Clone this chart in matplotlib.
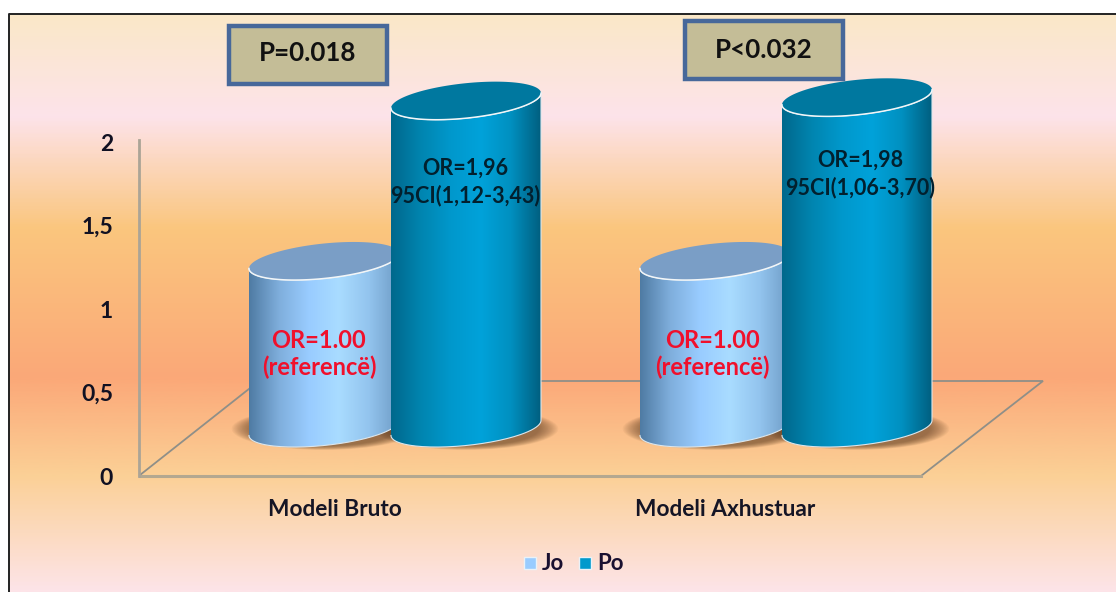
# Odds ratios for two models drawn as 3D-style cylinders over a gradient panel
import numpy as np
import matplotlib
matplotlib.use('Agg')
import matplotlib.pyplot as plt
from matplotlib.colors import LinearSegmentedColormap
from matplotlib.patches import Ellipse, FancyBboxPatch, PathPatch, Polygon, Rectangle
from matplotlib.path import Path
from matplotlib.transforms import Affine2D

plt.rcParams['font.family'] = ['Lato', 'DejaVu Sans']

# Data
models = ['Modeli Bruto', 'Modeli Axhustuar']
series = ['Jo', 'Po']
jo_values = [1.00, 1.00]
po_values = [1.96, 1.98]
y_ticks = [0, 0.5, 1, 1.5, 2]
y_tick_labels = ['0', '0,5', '1', '1,5', '2']
p_labels = ['P=0.018', 'P<0.032']
jo_notes = ['OR=1.00\n(referencë)', 'OR=1.00\n(referencë)']
po_notes = ['OR=1,96\n95CI(1,12-3,43)', 'OR=1,98\n95CI(1,06-3,70)']

# Figure geometry in pixels
W, H = 1116, 592
X0, X_STEP = 395.0, 391.0   # pixel of first group centre, pixels between groups
Y0, Y_STEP = 476.0, 167.0   # pixel of value 0, pixels per unit
BASE = 48 / Y_STEP          # floor depth under the cylinders, in value units
RX = 75 / X_STEP            # cylinder half width in group units
RY = 17.5 / Y_STEP          # ellipse half height
TILT = 7.5 / Y_STEP         # rise of the ellipse towards its right side

fig = plt.figure(figsize=(W / 100, H / 100), dpi=100, facecolor='white')
ax = fig.add_axes([0, 0, 1, 1])
ax.axis('off')
xlim = (-X0 / X_STEP, (W - X0) / X_STEP)
ylim = ((Y0 - H) / Y_STEP, Y0 / Y_STEP)

# transform for the furniture, given in pixels from the top left corner
pix = Affine2D().scale(1, -1).translate(0, H)


def px(x):
    return (x - X0) / X_STEP


def py(y):
    return (Y0 - y) / Y_STEP


# Background gradient of the panel
stops = [(0.0, '#FAE8C8'), (0.175, '#FDE3EA'), (0.37, '#FAC67E'), (0.63, '#FBA878'),
         (0.80, '#FBD096'), (1.0, '#FDE4E8')]
bg_cmap = LinearSegmentedColormap.from_list('panel', stops)
ax.imshow(np.linspace(0, 1, 400)[:, None], cmap=bg_cmap, aspect='auto', zorder=0,
          extent=(px(9), xlim[1], py(592), py(14)))
ax.plot([px(9), px(9), xlim[1]], [py(592), py(14), py(14)], color='#222222', lw=1.4, zorder=1)

# Floor and value axis
floor = [(140, 475), (259, 381), (1043, 381), (921, 476), (140, 476)]
ax.add_patch(Polygon(floor, closed=False, fill=False, ec='#8F8F88', lw=1.3, transform=pix, zorder=2))
ax.plot([140, 921], [476, 476], color='#B3A890', lw=2.2, transform=pix, zorder=2)
ax.plot([139, 139], [140, 476], color='#ABA496', lw=2.0, transform=pix, zorder=2)

for tick, label in zip(y_ticks, y_tick_labels):
    ax.text(px(113), tick - 0.012, label, ha='right', va='center', fontsize=16.5, fontweight='bold',
            color='#111122')

jo_cmap = LinearSegmentedColormap.from_list('jo', ['#4F7BA3', '#7FAEDC', '#99CCFF', '#A9DCFF', '#93C4EE', '#6E9CC6'])
po_cmap = LinearSegmentedColormap.from_list('po', ['#00688C', '#0085B0', '#0098CC', '#00A2DA', '#0090C0', '#005F80'])


def ellipse_xy(cx, cy, n=120):
    t = np.linspace(0, 2 * np.pi, n)
    return cx + RX * np.cos(t), cy + TILT * np.cos(t) + RY * np.sin(t)


def cylinder(cx, value, cmap, top_color, z):
    bottom, top = BASE, BASE + value

    # soft shadow on the floor, wider than the base and fading outwards
    for i in range(16):
        grow = 1.23 - i * 0.017
        ax.add_patch(Ellipse((cx, bottom - 0.005), 2 * RX * grow, 2 * RY * (1.0 + (grow - 1) * 0.9),
                             fc='#5A3A20', ec='none', alpha=0.05, zorder=2.5))

    # body outline: left side, front of the base, right side, front of the rim
    t = np.linspace(np.pi, 0, 80)
    low_x = cx + RX * np.cos(t)
    low_y = bottom + TILT * np.cos(t) - RY * np.sin(t)
    high_y = top + TILT * np.cos(t) - RY * np.sin(t)
    xs = np.concatenate([low_x, low_x[::-1]])
    ys = np.concatenate([low_y, high_y[::-1]])
    body = Path(np.column_stack([xs, ys]))
    im = ax.imshow(np.linspace(0, 1, 256)[None, :], cmap=cmap, aspect='auto', zorder=z + 0.1,
                   extent=(cx - RX, cx + RX, bottom - 2 * RY, top + 2 * RY))
    patch = PathPatch(body, transform=ax.transData, fc='none', ec='none')
    ax.add_patch(patch)
    im.set_clip_path(patch)
    ax.plot(xs, ys, color='#DCE6EC', lw=0.8, zorder=z + 0.2)

    ex, ey = ellipse_xy(cx, top)
    ax.fill(ex, ey, color=top_color, ec='none', zorder=z + 0.3)
    ax.plot(low_x, high_y, color='#F2F6F8', lw=1.1, zorder=z + 0.4)


for i in range(len(models)):
    cylinder(i - 71 / X_STEP, jo_values[i], jo_cmap, '#7A9EC6', 3)
    cylinder(i + 71 / X_STEP, po_values[i], po_cmap, '#00789F', 5)

# Notes on the cylinders
note = dict(ha='center', va='center', fontweight='bold', transform=pix, zorder=9)
ax.text(319, 354, jo_notes[0], color='#F0102C', fontsize=17, linespacing=1.2, **note)
ax.text(712, 354, jo_notes[1], color='#F0102C', fontsize=17, linespacing=1.2, **note)
ax.text(465, 182, po_notes[0], color='#02202E', fontsize=15.5, linespacing=1.3, **note)
ax.text(860, 174, po_notes[1], color='#02202E', fontsize=15.5, linespacing=1.3, **note)

# Category labels
for x, label in zip([335, 725], models):
    ax.text(x, 509, label, ha='center', va='center', fontsize=16.3, fontweight='bold',
            color='#151525', transform=pix, zorder=9)

# P value boxes
for (x, y, tx, ty), label in zip([(228, 25, 308, 53), (684, 20, 764, 50)], p_labels):
    ax.add_patch(FancyBboxPatch((x + 1, y + 1), 158, 58, boxstyle='square,pad=0', fc='#C4BD97',
                                ec='#47689A', lw=3.2, transform=pix, zorder=9))
    ax.text(tx, ty, label, ha='center', va='center', fontsize=18.7, fontweight='bold',
            color='#111111', transform=pix, zorder=10)

# Legend
for sx, tx, name, colour in zip([524, 579], [542, 597], series, ['#99CCFF', '#0099CC']):
    ax.add_patch(Rectangle((sx, 557), 12, 12, fc=colour, ec='#EAF2F8', lw=1.0, transform=pix, zorder=9))
    ax.text(tx, 563, name, ha='left', va='center', fontsize=16, fontweight='bold',
            color='#1A1030', transform=pix, zorder=9)

ax.set_xlim(xlim)
ax.set_ylim(ylim)
fig.savefig('out.png', dpi=100, facecolor='white')
